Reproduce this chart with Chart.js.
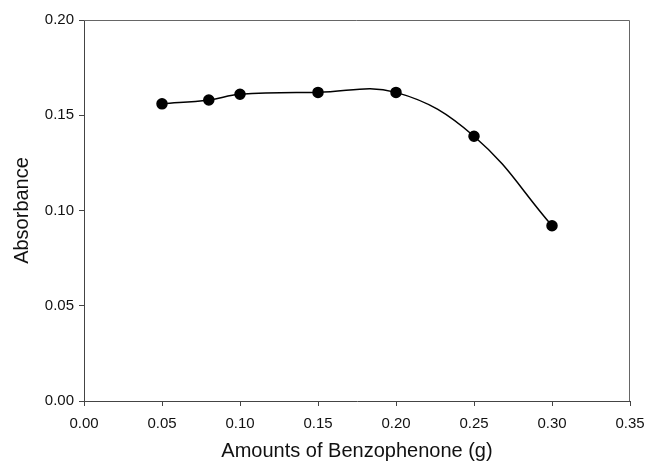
<!DOCTYPE html>
<html>
<head>
<meta charset="utf-8">
<script src="https://cdn.jsdelivr.net/npm/chart.js@4/dist/chart.umd.min.js"></script>
<style>
  html, body { margin: 0; padding: 0; background: #fff; }
  #wrap { width: 645px; height: 463px; }
</style>
</head>
<body>
<div id="wrap"><canvas id="absChart"></canvas></div>
<script>
// amounts of benzophenone (g) and measured absorbance
const amounts = [0.05, 0.08, 0.10, 0.15, 0.20, 0.25, 0.30];
const absorbance = [0.156, 0.158, 0.161, 0.162, 0.162, 0.139, 0.092];

const xTicks = [0, 0.05, 0.10, 0.15, 0.20, 0.25, 0.30, 0.35];
const yTicks = [0, 0.05, 0.10, 0.15, 0.20];

const points = amounts.map((a, i) => ({ x: a, y: absorbance[i] }));

// box around the plot area (top and right sides)
const frame = {
  id: "frame",
  afterDraw(chart) {
    const { ctx, chartArea: a } = chart;
    ctx.save();
    ctx.strokeStyle = "#666";
    ctx.lineWidth = 1;
    ctx.beginPath();
    ctx.moveTo(a.left, a.top + 0.5);
    ctx.lineTo(a.right - 0.5, a.top + 0.5);
    ctx.lineTo(a.right - 0.5, a.bottom);
    ctx.stroke();
    ctx.restore();
  },
};

const font = "'Liberation Sans', Arial, sans-serif";

new Chart(document.getElementById("absChart"), {
  type: "line",
  data: {
    datasets: [
      {
        data: points,
        borderColor: "#000",
        borderWidth: 1.5,
        backgroundColor: "#000",
        pointRadius: 5,
        pointHoverRadius: 5,
        tension: 0.4,
        fill: false,
      },
    ],
  },
  options: {
    responsive: true,
    maintainAspectRatio: false,
    animation: false,
    layout: { padding: { top: 20, right: 15, left: 0, bottom: 0 } },
    plugins: { legend: { display: false }, tooltip: { enabled: false } },
    scales: {
      x: {
        type: "linear",
        min: 0,
        max: 0.35,
        afterBuildTicks(scale) {
          scale.ticks = xTicks.map((v) => ({ value: v }));
        },
        afterFit(scale) {
          scale.height = 62;
          scale.paddingLeft = 0;
          scale.paddingRight = 0;
        },
        ticks: {
          padding: 9,
          color: "#111",
          font: { family: font, size: 15 },
          maxRotation: 0,
          callback: (v) => Number(v).toFixed(2),
        },
        grid: { drawOnChartArea: false, drawTicks: true, tickLength: 5, color: "#444" },
        border: { color: "#444", width: 1 },
        title: {
          display: true,
          text: "Amounts of Benzophenone (g)",
          color: "#111",
          font: { family: font, size: 20 },
          padding: { top: 0, bottom: 0 },
        },
      },
      y: {
        type: "linear",
        min: 0,
        max: 0.2,
        afterBuildTicks(scale) {
          scale.ticks = yTicks.map((v) => ({ value: v }));
        },
        afterFit(scale) {
          scale.width = 84;
          scale.paddingTop = 0;
          scale.paddingBottom = 0;
        },
        ticks: {
          padding: 5,
          color: "#111",
          font: { family: font, size: 15 },
          callback: (v) => Number(v).toFixed(2),
        },
        grid: { drawOnChartArea: false, drawTicks: true, tickLength: 5, color: "#444" },
        border: { color: "#444", width: 1 },
        title: {
          display: true,
          text: "Absorbance",
          color: "#111",
          font: { family: font, size: 20 },
          padding: { top: 10, bottom: 0 },
        },
      },
    },
  },
  plugins: [frame],
});
</script>
</body>
</html>
